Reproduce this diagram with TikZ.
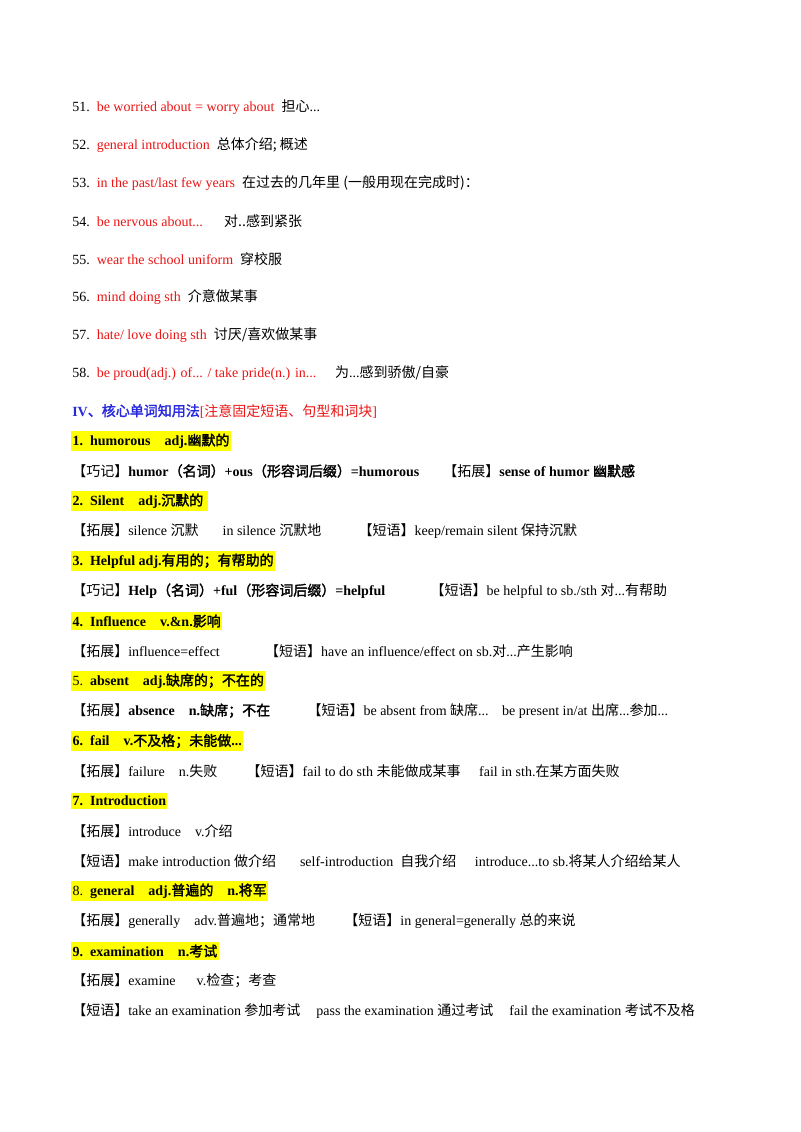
\documentclass[tikz,border=0pt]{standalone}
\usepackage{fontspec}
\setmainfont{Liberation Serif}
\newfontfamily\cjk{Noto Sans CJK SC}[AutoFakeBold=2]
\newcommand\C[1]{{\cjk #1}}
\definecolor{rd}{RGB}{235,20,20}
\definecolor{bl}{RGB}{40,40,220}
\definecolor{hl}{RGB}{255,255,0}
\begin{document}
\begin{tikzpicture}[x=0.75pt,y=-0.75pt,
  ln/.style={anchor=west,inner sep=0pt,font=\fontsize{10.5}{12}\selectfont},
  hd/.style={anchor=west,inner xsep=1pt,inner ysep=2pt,fill=hl,font=\fontsize{10.5}{12}\selectfont\bfseries}]
\useasboundingbox (0,0) rectangle (800,1132);
\node[ln] (l51) at (72,107) {51.\ \ \textcolor{rd}{be worried about = worry about}\ \ \C{担心}...};
\node[ln] (l52) at (72,145) {52.\ \ \textcolor{rd}{general introduction}\ \ \C{总体介绍; 概述}};
\node[ln] (l53) at (72,183) {53.\ \ \textcolor{rd}{in the past/last few years}\ \ \C{在过去的几年里 (一般用现在完成时)：}};
\node[ln] (l54) at (72,221) {54.\ \ \textcolor{rd}{be nervous about...}\hspace{16pt}\C{对..感到紧张}};
\node[ln] (l55) at (72,259) {55.\ \ \textcolor{rd}{wear the school uniform}\ \ \C{穿校服}};
\node[ln] (l56) at (72,297) {56.\ \ \textcolor{rd}{mind doing sth}\ \ \C{介意做某事}};
\node[ln] (l57) at (72,335) {57.\ \ \textcolor{rd}{hate/ love doing sth}\ \ \C{讨厌/喜欢做某事}};
\node[ln] (l58) at (72,373) {58.\ \ \textcolor{rd}{be proud(adj.) of... / take pride(n.) in...}\hspace{14pt}\C{为}...\C{感到骄傲/自豪}};
\node[ln] (h4) at (72,411) {\textcolor{bl}{\bfseries IV\C{、核心单词知用法}}\textcolor{rd}{[\C{注意固定短语、句型和词块}]}};
\node[hd] (t1) at (71,441) {1.\ \ humorous\ \ \ \ adj.\C{幽默的}};
\node[ln] (e1) at (72,471) {\C{【巧记】}\textbf{humor\C{（名词）}+ous\C{（形容词后缀）}=humorous}\hspace{18pt}\C{【拓展】}\textbf{sense of humor \C{幽默感}}};
\node[hd] (t2) at (71,501) {2.\ \ Silent\ \ \ \ adj.\C{沉默的}\ \ };
\node[ln] (e2) at (72,531) {\C{【拓展】}silence \C{沉默}\hspace{18pt}in silence \C{沉默地}\hspace{28pt}\C{【短语】}keep/remain silent \C{保持沉默}};
\node[hd] (t3) at (71,561) {3.\ \ Helpful adj.\C{有用的；有帮助的}};
\node[ln] (e3) at (72,591) {\C{【巧记】}\textbf{Help\C{（名词）}+ful\C{（形容词后缀）}=helpful}\hspace{34pt}\C{【短语】}be helpful to sb./sth \C{对}...\C{有帮助}};
\node[hd] (t4) at (71,621) {4.\ \ Influence\ \ \ \ v.\&n.\C{影响}};
\node[ln] (e4) at (72,651) {\C{【拓展】}influence=effect\hspace{34pt}\C{【短语】}have an influence/effect on sb.\C{对}...\C{产生影响}};
\node[hd] (t5) at (71,681) {\mdseries 5.\ \ \bfseries absent\ \ \ \ adj.\C{缺席的；不在的}};
\node[ln] (e5) at (72,711) {\C{【拓展】}\textbf{absence\ \ \ \ n.\C{缺席；不在}}\hspace{28pt}\C{【短语】}be absent from \C{缺席}...\hspace{10pt}be present in/at \C{出席}...\C{参加}...};
\node[hd] (t6) at (71,741) {6.\ \ fail\ \ \ \ v.\C{不及格；未能做}...};
\node[ln] (e6) at (72,771) {\C{【拓展】}failure\ \ \ \ n.\C{失败}\hspace{22pt}\C{【短语】}fail to do sth \C{未能做成某事}\hspace{14pt}fail in sth.\C{在某方面失败}};
\node[hd] (t7) at (71,801) {7.\ \ Introduction};
\node[ln] (e7a) at (72,831) {\C{【拓展】}introduce\ \ \ \ v.\C{介绍}};
\node[ln] (e7b) at (72,861) {\C{【短语】}make introduction \C{做介绍}\hspace{18pt}self-introduction\ \ \C{自我介绍}\hspace{14pt}introduce...to sb.\C{将某人介绍给某人}};
\node[hd] (t8) at (71,891) {\mdseries 8.\ \ \bfseries general\ \ \ \ adj.\C{普遍的}\ \ \ \ n.\C{将军}};
\node[ln] (e8) at (72,921) {\C{【拓展】}generally\ \ \ \ adv.\C{普遍地；通常地}\hspace{22pt}\C{【短语】}in general=generally \C{总的来说}};
\node[hd] (t9) at (71,951) {9.\ \ examination\ \ \ \ n.\C{考试}};
\node[ln] (e9a) at (72,981) {\C{【拓展】}examine\ \ \ \ \ \ v.\C{检查；考查}};
\node[ln] (e9b) at (72,1011) {\C{【短语】}take an examination \C{参加考试}\hspace{12pt}pass the examination \C{通过考试}\hspace{12pt}fail the examination \C{考试不及格}};
\end{tikzpicture}
\end{document}
